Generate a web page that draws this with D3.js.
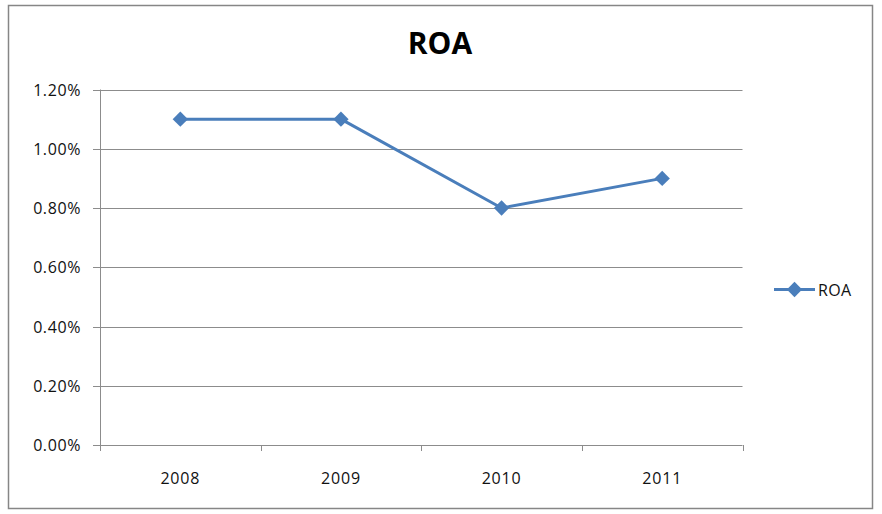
<!DOCTYPE html>
<html><head><meta charset="utf-8">
<script src="https://cdn.jsdelivr.net/npm/d3@7"></script>
<style>body{margin:0;background:#fff;}svg{display:block;}</style>
</head><body>
<svg id="c" width="882" height="514"></svg>
<script>
const categories = ["2008", "2009", "2010", "2011"];
const roaValues = [0.011, 0.011, 0.008, 0.009];
const yTicks = [0, 0.002, 0.004, 0.006, 0.008, 0.010, 0.012];
const seriesName = "ROA";
const chartTitle = "ROA";

const svg = d3.select("#c");
const color = "#4A7EBB";
const grid = "#8c8c8c";
const font = "'Open Sans', sans-serif";

svg.append("rect").attr("x", 8.5).attr("y", 5.5).attr("width", 864).attr("height", 503)
  .attr("fill", "#fff").attr("stroke", "#868686").attr("stroke-width", 1.5);

const plot = {l: 100, r: 742.5, t: 89.5, b: 445};
const x = d3.scaleBand().domain(categories).range([plot.l, plot.r]).padding(0);
const y = d3.scaleLinear().domain([0, 0.012]).range([plot.b, plot.t]);

// gridlines
svg.append("g").selectAll("line").data(yTicks).join("line")
  .attr("x1", plot.l - 7).attr("x2", plot.r)
  .attr("y1", d => Math.round(y(d)) + 0.5).attr("y2", d => Math.round(y(d)) + 0.5)
  .attr("stroke", grid).attr("stroke-width", 1);

// y axis line
svg.append("line").attr("x1", plot.l + 0.5).attr("x2", plot.l + 0.5)
  .attr("y1", plot.t).attr("y2", plot.b).attr("stroke", grid);

// y labels
const fmt = d3.format(".2%");
svg.append("g").selectAll("text").data(yTicks).join("text")
  .attr("x", 81).attr("y", d => y(d) + 6)
  .attr("text-anchor", "end").attr("font-family", font).attr("font-size", 16)
  .attr("letter-spacing", 0.6).attr("fill", "#111").text(d => fmt(d));

// x ticks at band boundaries
const bounds = categories.map(c => x(c)).concat([plot.r]);
svg.append("g").selectAll("line").data(bounds).join("line")
  .attr("x1", d => Math.round(d) + 0.5).attr("x2", d => Math.round(d) + 0.5)
  .attr("y1", plot.b).attr("y2", plot.b + 6).attr("stroke", grid);

// x labels
svg.append("g").selectAll("text").data(categories).join("text")
  .attr("x", d => x(d) + x.bandwidth() / 2).attr("y", 483.5)
  .attr("text-anchor", "middle").attr("font-family", font).attr("font-size", 16)
  .attr("letter-spacing", 0.8).attr("fill", "#111").text(d => d);

// line
const pts = categories.map((c, i) => [x(c) + x.bandwidth() / 2, y(roaValues[i])]);
svg.append("path").attr("d", d3.line()(pts)).attr("fill", "none")
  .attr("stroke", color).attr("stroke-width", 3).attr("stroke-linejoin", "round");

const diamond = d3.symbol().type(d3.symbolDiamond2).size(150);
svg.append("g").selectAll("path").data(pts).join("path")
  .attr("d", diamond).attr("transform", d => `translate(${d[0]},${d[1]})`)
  .attr("fill", color);

// title
svg.append("text").attr("x", 440).attr("y", 54).attr("text-anchor", "middle")
  .attr("font-family", font).attr("font-weight", "bold").attr("font-size", 30)
  .attr("fill", "#000").text(chartTitle);

// legend
const lg = svg.append("g");
lg.append("line").attr("x1", 774).attr("x2", 815).attr("y1", 289.5).attr("y2", 289.5)
  .attr("stroke", color).attr("stroke-width", 3);
lg.append("path").attr("d", diamond).attr("transform", "translate(794.5,289.5)").attr("fill", color);
lg.append("text").attr("x", 818).attr("y", 295.5).attr("font-family", font).attr("font-size", 16)
  .attr("letter-spacing", 0.4).attr("fill", "#111").text(seriesName);
</script>
</body></html>
